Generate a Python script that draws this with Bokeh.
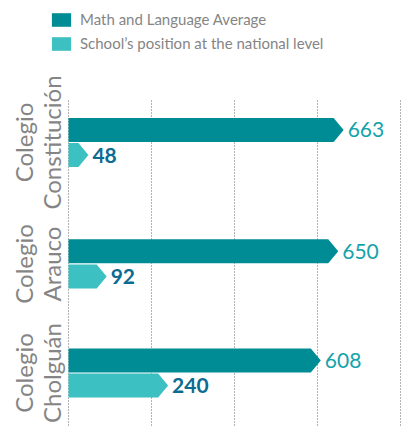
import numpy as np
from bokeh.plotting import figure
from bokeh.models import Range1d, Legend, LegendItem
from bokeh.core.properties import value
from bokeh.embed import file_html
from bokeh.resources import INLINE

# ---- data ----
schools = ["Colegio\nConstitución", "Colegio\nArauco", "Colegio\nCholguán"]
math_lang_avg = [663, 650, 608]
national_position = [48, 92, 240]
grid_ticks = [0, 200, 400, 600, 800]
series_names = ["Math and Language Average", "School\u2019s position at the national level"]

# ---- style / layout ----
DARK = "#008c95"
LIGHT = "#3cc0c2"
DARK_LBL = "#14a3aa"
LIGHT_LBL = "#0c6b91"
GRAY = "#858585"
FONT = "Lato"

W, H = 402, 427
PX_X = 0.415          # px per value unit
X0_PX = 68            # px of value 0
PX_Y = 115.25         # px per group step
Y0_PX = 142           # px of first group centre
GROUP_POS = [0, 1.054, 2]   # vertical slot of each group (layout)

def px_x(px):
    return px / PX_X

def px_y(px):
    return px / PX_Y

x_range = Range1d(-X0_PX / PX_X, (W - X0_PX) / PX_X)
y_range = Range1d((H - Y0_PX) / PX_Y, -Y0_PX / PX_Y)

p = figure(width=W, height=H, x_range=x_range, y_range=y_range,
           output_backend="svg", toolbar_location=None,
           x_axis_location=None, y_axis_location=None, min_border=0)
p.grid.visible = False
p.outline_line_color = None
p.background_fill_color = "white"
p.border_fill_color = "white"

# grid lines
g_top = px_y(100 - Y0_PX)
p.segment(x0=grid_ticks, x1=grid_ticks, y0=[g_top] * len(grid_ticks),
          y1=[y_range.start] * len(grid_ticks), line_color="#666666",
          line_width=1, line_dash="1 2")

tip = px_x(10)
bh = px_y(24)
half_gap = px_y(0.6)
centers = GROUP_POS[:len(schools)]

def arrow_shapes(vals, top_offset):
    xs, ys = [], []
    for c, v in zip(centers, vals):
        t = c + top_offset
        b = t + bh
        m = (t + b) / 2
        xs.append([0, v - tip, v, v - tip, 0])
        ys.append([t, t, m, b, b])
    return xs, ys

dx, dy = arrow_shapes(math_lang_avg, -half_gap - bh)
lx, ly = arrow_shapes(national_position, half_gap)

r_dark = p.patches(xs=dx, ys=dy, fill_color=DARK, line_color=None)
r_light = p.patches(xs=lx, ys=ly, fill_color=LIGHT, line_color=None)

# value labels
gap = px_x(4)
p.text(x=[v + gap for v in math_lang_avg],
       y=[c - half_gap - bh / 2 for c in centers],
       text=[str(v) for v in math_lang_avg],
       text_color=DARK_LBL, text_font=value(FONT), text_font_size="21px",
       text_baseline="middle", text_align="left")
p.text(x=[v + gap for v in national_position],
       y=[c + half_gap + bh / 2 for c in centers],
       text=[str(v) for v in national_position],
       text_color=LIGHT_LBL, text_font=value(FONT), text_font_size="21px",
       text_font_style="bold",
       text_baseline="middle", text_align="left")

# group labels (rotated)
p.text(x=[px_x(37 - X0_PX)] * len(schools), y=centers, text=schools,
       angle=np.pi / 2, text_color=GRAY, text_font=value(FONT),
       text_font_size="24px", text_align="center", text_baseline="middle",
       text_line_height=0.98)

legend = Legend(items=[LegendItem(label=series_names[0], renderers=[r_dark]),
                       LegendItem(label=series_names[1], renderers=[r_light])],
                location=(49, H - 12 - 40), orientation="vertical",
                glyph_width=24, glyph_height=17, label_height=17,
                label_standoff=7, spacing=6, padding=0, margin=0,
                border_line_color=None, background_fill_alpha=0,
                label_text_font=FONT, label_text_font_size="15px",
                label_text_color=GRAY)
p.add_layout(legend, "center")

open("out.html", "w").write(file_html(p, INLINE))
